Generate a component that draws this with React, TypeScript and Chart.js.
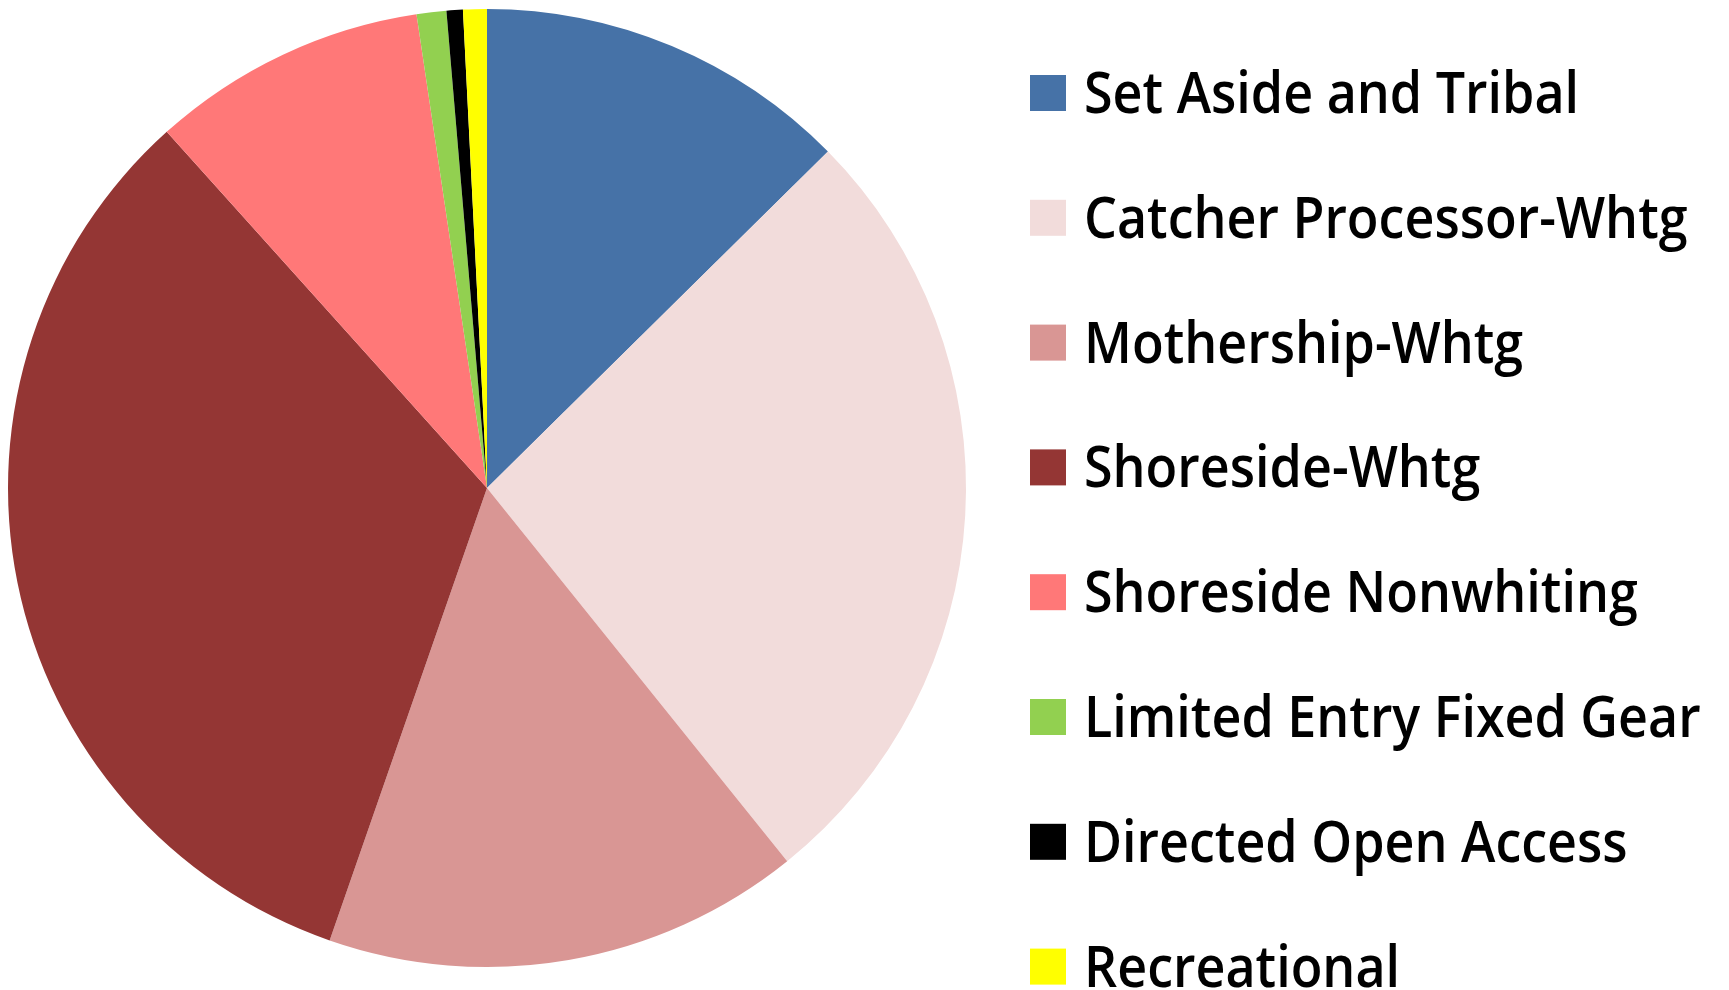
import React, { useEffect, useRef } from "react";
import { Chart, registerables } from "chart.js";

Chart.register(...registerables);

const categories: string[] = [
  "Set Aside and Tribal",
  "Catcher Processor-Whtg",
  "Mothership-Whtg",
  "Shoreside-Whtg",
  "Shoreside Nonwhiting",
  "Limited Entry Fixed Gear",
  "Directed Open Access",
  "Recreational",
];

const shares: number[] = [12.6, 26.6, 16.1, 33.0, 9.3, 1.0, 0.55, 0.8];

const sliceColors: string[] = [
  "#4672A7",
  "#F2DCDB",
  "#D99694",
  "#943634",
  "#FF7878",
  "#92D050",
  "#000000",
  "#FFFF00",
];

const LEGEND_BOX_X = 1030;
const LEGEND_BOX_SIZE = 36;
const LEGEND_FIRST_Y = 93;
const LEGEND_STEP = 124.8;
const LEGEND_TEXT_X = 1084;
const LEGEND_FONT_SIZE = 52;
const LEGEND_FONT_WEIGHT = 600;
const LEGEND_SCALE_Y = 1.1;
const LEGEND_BASELINE_OFFSET = 20;

const sideLegend = {
  id: "sideLegend",
  afterDraw(chart: any) {
    const ctx: CanvasRenderingContext2D = chart.ctx;
    const labels = chart.data.labels as string[];
    const colors = chart.data.datasets[0].backgroundColor as string[];
    ctx.save();
    ctx.textBaseline = "alphabetic";
    ctx.textAlign = "left";
    labels.forEach((label, i) => {
      const cy = LEGEND_FIRST_Y + i * LEGEND_STEP;
      ctx.fillStyle = colors[i];
      ctx.fillRect(LEGEND_BOX_X, cy - LEGEND_BOX_SIZE / 2, LEGEND_BOX_SIZE, LEGEND_BOX_SIZE);
      ctx.save();
      ctx.translate(LEGEND_TEXT_X, cy + LEGEND_BASELINE_OFFSET);
      ctx.scale(1, LEGEND_SCALE_Y);
      ctx.font = `${LEGEND_FONT_WEIGHT} ${LEGEND_FONT_SIZE}px "Open Sans"`;
      ctx.fillStyle = "#000000";
      ctx.fillText(label, 0, 0);
      ctx.restore();
    });
    ctx.restore();
  },
};

export default function App() {
  const ref = useRef<HTMLCanvasElement | null>(null);
  useEffect(() => {
    if (!ref.current) return;
    const chart = new Chart(ref.current, {
      type: "pie",
      data: {
        labels: categories,
        datasets: [
          {
            data: shares,
            backgroundColor: sliceColors,
            borderWidth: 0,
            hoverOffset: 0,
            offset: 0,
          },
        ],
      },
      options: {
        animation: false,
        responsive: true,
        maintainAspectRatio: false,
        layout: { padding: { left: 8, right: 763, top: 9, bottom: 23 } },
        plugins: {
          legend: { display: false },
          tooltip: { enabled: false },
        },
      },
      plugins: [sideLegend],
    });
    return () => chart.destroy();
  }, []);
  return (
    <div
      style={{
        position: "fixed",
        left: 0,
        top: 0,
        width: 1729,
        height: 990,
        background: "#ffffff",
      }}
    >
      <canvas ref={ref} />
    </div>
  );
}
